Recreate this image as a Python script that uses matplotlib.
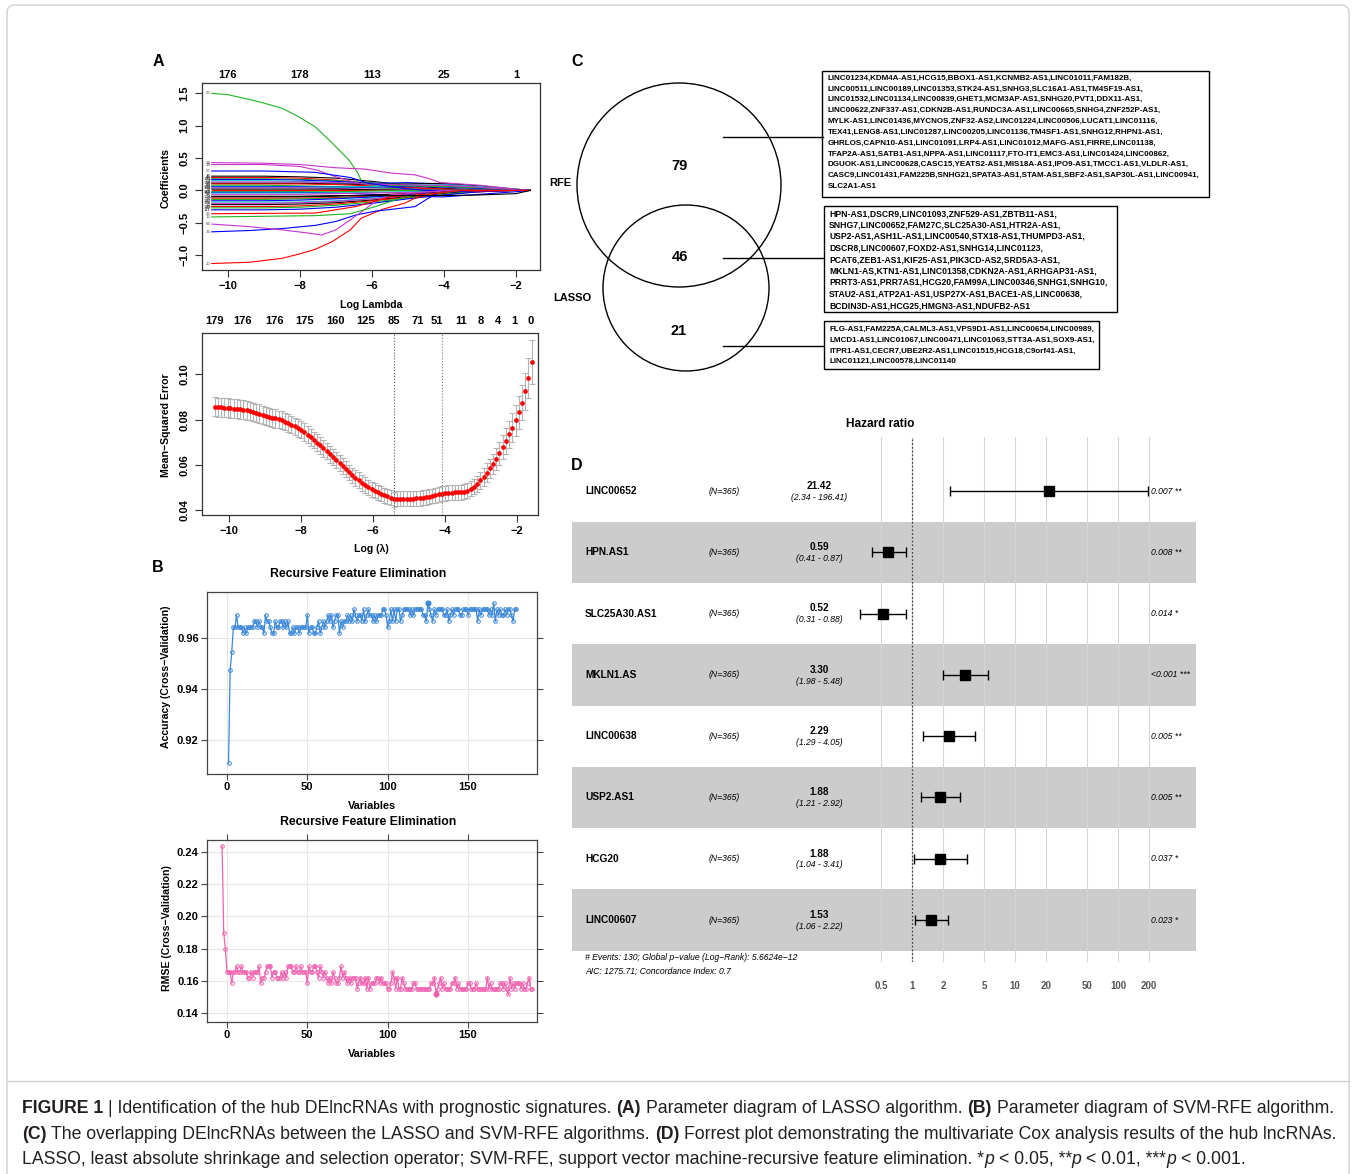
import numpy as np
import matplotlib
matplotlib.use("Agg")
import matplotlib.pyplot as plt
from matplotlib import transforms
from matplotlib.patches import Circle, Rectangle, FancyBboxPatch

W, H = 1356, 1174

# ---------------- panel A (top): LASSO coefficient paths ----------------
lasso_knots = [-10.45, -9.0, -8.0, -7.0, -6.0, -5.0, -4.0, -3.0, -2.0, -1.6]
bundle_paths = [
    [0.22, 0.22, 0.21, 0.19, 0.14, 0.08, 0.03, 0.01, 0.0, 0.0],
    [0.20, 0.20, 0.19, 0.16, 0.10, 0.05, 0.02, 0.0, 0.0, 0.0],
    [0.18, 0.18, 0.17, 0.15, 0.12, 0.09, 0.06, 0.03, 0.01, 0.0],
    [0.17, 0.17, 0.16, 0.14, 0.11, 0.12, 0.10, 0.05, 0.01, 0.0],
    [0.15, 0.15, 0.14, 0.12, 0.07, 0.03, 0.0, 0.0, 0.0, 0.0],
    [0.13, 0.13, 0.13, 0.12, 0.10, 0.08, 0.07, 0.04, 0.01, 0.0],
    [0.11, 0.11, 0.11, 0.10, 0.09, 0.10, 0.11, 0.07, 0.02, 0.0],
    [0.10, 0.10, 0.10, 0.09, 0.07, 0.04, 0.02, 0.0, 0.0, 0.0],
    [0.08, 0.08, 0.07, 0.06, 0.04, 0.02, 0.0, 0.0, 0.0, 0.0],
    [0.06, 0.06, 0.06, 0.05, 0.05, 0.06, 0.05, 0.03, 0.01, 0.0],
    [0.05, 0.05, 0.05, 0.05, 0.06, 0.08, 0.09, 0.06, 0.02, 0.0],
    [0.04, 0.04, 0.04, 0.03, 0.02, 0.01, 0.0, 0.0, 0.0, 0.0],
    [0.02, 0.02, 0.02, 0.02, 0.01, 0.0, 0.0, 0.0, 0.0, 0.0],
    [0.00, 0.00, 0.00, 0.00, 0.00, 0.0, 0.0, 0.0, 0.0, 0.0],
    [-0.02, -0.02, -0.02, -0.02, -0.01, 0.0, 0.0, 0.0, 0.0, 0.0],
    [-0.03, -0.03, -0.03, -0.04, -0.06, -0.09, -0.10, -0.06, -0.02, 0.0],
    [-0.04, -0.04, -0.04, -0.04, -0.03, -0.02, -0.01, 0.0, 0.0, 0.0],
    [-0.06, -0.06, -0.06, -0.05, -0.04, -0.03, -0.02, 0.0, 0.0, 0.0],
    [-0.10, -0.10, -0.10, -0.09, -0.07, -0.05, -0.03, -0.01, 0.0, 0.0],
    [-0.12, -0.12, -0.12, -0.11, -0.09, -0.06, -0.03, 0.0, 0.0, 0.0],
    [-0.14, -0.14, -0.13, -0.12, -0.10, -0.08, -0.05, -0.02, 0.0, 0.0],
    [-0.16, -0.16, -0.15, -0.13, -0.10, -0.07, -0.03, 0.0, 0.0, 0.0],
    [-0.18, -0.18, -0.18, -0.16, -0.12, -0.08, -0.04, -0.01, 0.0, 0.0],
    [-0.20, -0.20, -0.19, -0.17, -0.13, -0.09, -0.05, -0.02, 0.0, 0.0],
    [-0.22, -0.22, -0.21, -0.19, -0.15, -0.10, -0.05, 0.0, 0.0, 0.0],
    [-0.25, -0.25, -0.24, -0.21, -0.16, -0.11, -0.06, -0.02, 0.0, 0.0],
    [-0.27, -0.27, -0.26, -0.23, -0.18, -0.12, -0.06, -0.01, 0.0, 0.0],
    [-0.30, -0.30, -0.29, -0.26, -0.20, -0.13, -0.07, -0.02, 0.0, 0.0],
]
bundle_ids = [12, 45, 88, 131, 7, 64, 150, 23, 99, 171, 38, 142, 5, 77,
              118, 60, 163, 31, 104, 9, 85, 127, 52, 176, 16, 140, 69, 111]

green_top_x = [-10.45, -10.0, -9.44, -9.0, -8.5, -8.04, -7.57, -7.1, -6.64, -6.4, -6.26, -6.1, -5.5, -5.0, -4.0, -3.0, -2.0, -1.6]
green_top_y = [1.50, 1.48, 1.41, 1.35, 1.27, 1.14, 0.98, 0.73, 0.47, 0.28, 0.11, 0.09, 0.08, 0.07, 0.06, 0.04, 0.01, 0.0]
magenta_a_x = [-10.45, -9.0, -8.0, -7.0, -6.2, -5.5, -4.8, -4.4, -4.1, -3.0, -2.0, -1.6]
magenta_a_y = [0.43, 0.42, 0.40, 0.35, 0.33, 0.27, 0.24, 0.18, 0.12, 0.08, 0.02, 0.0]
magenta_b_x = [-10.45, -9.0, -8.0, -7.5, -7.0, -6.3, -5.5, -4.5, -4.0, -3.0, -2.0, -1.6]
magenta_b_y = [0.40, 0.40, 0.37, 0.31, 0.21, 0.10, 0.09, 0.08, 0.08, 0.05, 0.01, 0.0]
blue_top_x = [-10.45, -9.0, -7.6, -6.6, -6.1, -5.1, -4.5, -3.0, -1.6]
blue_top_y = [0.30, 0.30, 0.28, 0.20, 0.11, 0.03, 0.0, 0.0, 0.0]
red_low_x = [-10.45, -9.4, -8.5, -8.0, -7.57, -7.1, -6.6, -6.3, -5.7, -5.1, -4.8, -4.3, -4.0, -3.0, -2.0, -1.6]
red_low_y = [-1.13, -1.11, -1.05, -0.98, -0.91, -0.79, -0.61, -0.43, -0.29, -0.20, -0.12, -0.05, -0.02, -0.01, 0.0, 0.0]
blue_low_x = [-10.45, -9.4, -8.5, -7.57, -7.0, -6.45, -5.9, -5.1, -4.8, -4.4, -4.1, -3.0, -1.6]
blue_low_y = [-0.64, -0.62, -0.59, -0.54, -0.48, -0.38, -0.32, -0.27, -0.25, -0.11, -0.03, 0.0, 0.0]
magenta_low_x = [-10.45, -9.4, -8.5, -7.75, -7.4, -7.0, -6.64, -6.26, -5.9, -5.5, -4.8, -4.0, -1.6]
magenta_low_y = [-0.52, -0.56, -0.61, -0.66, -0.69, -0.61, -0.47, -0.32, -0.17, -0.07, -0.04, 0.0, 0.0]
green_low_x = [-10.45, -7.57, -6.6, -5.9, -5.1, -4.3, -3.5, -1.6]
green_low_y = [-0.41, -0.39, -0.36, -0.25, -0.10, -0.05, 0.0, 0.0]
red_mid_x = [-10.45, -7.57, -6.45, -5.5, -4.3, -3.5, -1.6]
red_mid_y = [-0.36, -0.35, -0.25, -0.10, -0.05, 0.0, 0.0]
black_long_x = [-10.45, -9.0, -8.0, -7.0, -6.0, -5.0, -4.0, -3.0, -2.0, -1.6]
black_long_y = [-0.09, -0.09, -0.09, -0.08, -0.08, -0.08, -0.08, -0.07, -0.05, 0.0]

coef_top_pos = [-10, -8, -6, -4, -2]
coef_top_lab = ["176", "178", "113", "25", "1"]

# ---------------- panel A (bottom): cross-validated MSE ----------------
mse_lam = [-10.40, -10.31, -10.22, -10.13, -10.04, -9.96, -9.87, -9.78, -9.69, -9.60,
           -9.51, -9.42, -9.33, -9.24, -9.16, -9.07, -8.98, -8.89, -8.80, -8.71,
           -8.62, -8.53, -8.44, -8.36, -8.27, -8.18, -8.09, -8.00, -7.91, -7.82,
           -7.73, -7.64, -7.56, -7.47, -7.38, -7.29, -7.20, -7.11, -7.02, -6.93,
           -6.84, -6.76, -6.67, -6.58, -6.49, -6.40, -6.31, -6.22, -6.13, -6.04,
           -5.96, -5.87, -5.78, -5.69, -5.60, -5.51, -5.42, -5.33, -5.24, -5.16,
           -5.07, -4.98, -4.89, -4.80, -4.71, -4.62, -4.53, -4.44, -4.36, -4.27,
           -4.18, -4.09, -4.00, -3.91, -3.82, -3.73, -3.64, -3.56, -3.47, -3.38,
           -3.29, -3.20, -3.11, -3.02, -2.93, -2.84, -2.76, -2.67, -2.58, -2.49,
           -2.40, -2.31, -2.22, -2.13, -2.04, -1.96, -1.87, -1.78, -1.69, -1.60]
mse = [0.0856, 0.0855, 0.0854, 0.0853, 0.0852, 0.0851, 0.0849, 0.0847, 0.0845, 0.0843,
       0.0841, 0.0838, 0.0834, 0.0830, 0.0826, 0.0821, 0.0817, 0.0813, 0.0809, 0.0805,
       0.0801, 0.0797, 0.0791, 0.0785, 0.0778, 0.0771, 0.0763, 0.0755, 0.0745, 0.0734,
       0.0722, 0.0710, 0.0698, 0.0686, 0.0673, 0.0660, 0.0646, 0.0633, 0.0620, 0.0608,
       0.0595, 0.0581, 0.0566, 0.0553, 0.0542, 0.0531, 0.0520, 0.0510, 0.0501, 0.0492,
       0.0485, 0.0478, 0.0472, 0.0466, 0.0460, 0.0454, 0.0448, 0.0449, 0.0449, 0.0449,
       0.0449, 0.0449, 0.0450, 0.0451, 0.0452, 0.0454, 0.0456, 0.0459, 0.0462, 0.0466,
       0.0469, 0.0472, 0.0474, 0.0476, 0.0477, 0.0478, 0.0478, 0.0479, 0.0481, 0.0485,
       0.0494, 0.0504, 0.0516, 0.0531, 0.0547, 0.0565, 0.0584, 0.0605, 0.0627, 0.0651,
       0.0678, 0.0706, 0.0735, 0.0765, 0.0797, 0.0832, 0.0875, 0.0925, 0.0985, 0.1055]
mse_sd = [0.0042, 0.0042, 0.0042, 0.0042, 0.0042, 0.0042, 0.0042, 0.0042, 0.0042, 0.0042,
          0.0041, 0.0041, 0.0041, 0.0041, 0.0041, 0.0040, 0.0040, 0.0040, 0.0040, 0.0040,
          0.0039, 0.0039, 0.0039, 0.0039, 0.0039, 0.0038, 0.0038, 0.0038, 0.0038, 0.0038,
          0.0038, 0.0037, 0.0037, 0.0037, 0.0037, 0.0036, 0.0036, 0.0036, 0.0036, 0.0036,
          0.0036, 0.0035, 0.0035, 0.0035, 0.0035, 0.0035, 0.0034, 0.0034, 0.0034, 0.0034,
          0.0034, 0.0034, 0.0034, 0.0033, 0.0033, 0.0033, 0.0033, 0.0033, 0.0033, 0.0033,
          0.0033, 0.0033, 0.0033, 0.0033, 0.0033, 0.0033, 0.0033, 0.0033, 0.0033, 0.0033,
          0.0033, 0.0033, 0.0033, 0.0033, 0.0033, 0.0033, 0.0033, 0.0033, 0.0033, 0.0033,
          0.0034, 0.0035, 0.0036, 0.0037, 0.0039, 0.0041, 0.0043, 0.0045, 0.0048, 0.0051,
          0.0054, 0.0057, 0.0060, 0.0064, 0.0068, 0.0072, 0.0077, 0.0082, 0.0089, 0.0097]
lambda_min_idx = 56
lambda_1se_idx = 71
mse_top_pos = [-10.39, -9.62, -8.74, -7.89, -7.05, -6.21, -5.42, -4.76, -4.22, -3.57, -3.01, -2.53, -2.07, -1.63]
mse_top_lab = ["179", "176", "176", "175", "160", "125", "85", "71", "51", "11", "8", "4", "1", "0"]

# ---------------- panel B: SVM-RFE ----------------
acc_vars = list(range(1, 181))
acc = [0.9110, 0.9474, 0.9545, 0.9641, 0.9641, 0.9689, 0.9641, 0.9641, 0.9641, 0.9618,
       0.9641, 0.9618, 0.9641, 0.9641, 0.9641, 0.9641, 0.9665, 0.9665, 0.9641, 0.9665,
       0.9641, 0.9641, 0.9618, 0.9689, 0.9665, 0.9665, 0.9641, 0.9618, 0.9618, 0.9665,
       0.9641, 0.9641, 0.9665, 0.9665, 0.9641, 0.9665, 0.9641, 0.9665, 0.9618, 0.9618,
       0.9641, 0.9618, 0.9641, 0.9641, 0.9618, 0.9641, 0.9641, 0.9641, 0.9641, 0.9689,
       0.9618, 0.9641, 0.9641, 0.9618, 0.9618, 0.9641, 0.9665, 0.9618, 0.9641, 0.9665,
       0.9641, 0.9665, 0.9689, 0.9665, 0.9689, 0.9641, 0.9665, 0.9689, 0.9689, 0.9618,
       0.9665, 0.9641, 0.9665, 0.9665, 0.9689, 0.9665, 0.9689, 0.9665, 0.9712, 0.9689,
       0.9665, 0.9689, 0.9689, 0.9665, 0.9712, 0.9665, 0.9689, 0.9712, 0.9689, 0.9689,
       0.9665, 0.9689, 0.9665, 0.9689, 0.9689, 0.9689, 0.9712, 0.9712, 0.9689, 0.9641,
       0.9665, 0.9712, 0.9665, 0.9712, 0.9665, 0.9712, 0.9712, 0.9665, 0.9689, 0.9712,
       0.9712, 0.9712, 0.9712, 0.9689, 0.9712, 0.9689, 0.9712, 0.9712, 0.9712, 0.9712,
       0.9712, 0.9689, 0.9689, 0.9665, 0.9736, 0.9712, 0.9689, 0.9665, 0.9712, 0.9689,
       0.9712, 0.9712, 0.9712, 0.9712, 0.9689, 0.9689, 0.9712, 0.9665, 0.9689, 0.9712,
       0.9689, 0.9712, 0.9712, 0.9712, 0.9689, 0.9689, 0.9712, 0.9712, 0.9712, 0.9689,
       0.9712, 0.9712, 0.9712, 0.9712, 0.9712, 0.9665, 0.9712, 0.9689, 0.9712, 0.9712,
       0.9712, 0.9712, 0.9689, 0.9712, 0.9689, 0.9736, 0.9665, 0.9712, 0.9689, 0.9712,
       0.9689, 0.9689, 0.9712, 0.9689, 0.9712, 0.9712, 0.9689, 0.9665, 0.9712, 0.9712]

rmse_vars = list(range(-3, 191))
rmse = [0.2435, 0.1900, 0.1800, 0.1655, 0.1655, 0.1655, 0.1585, 0.1655, 0.1655, 0.1690, 0.1655, 0.1655, 0.1690, 0.1655,
        0.1655, 0.1655, 0.1620, 0.1620, 0.1655, 0.1620, 0.1655, 0.1655, 0.1655, 0.1690,
        0.1585, 0.1620, 0.1620, 0.1655, 0.1690, 0.1690, 0.1690, 0.1620, 0.1655, 0.1655,
        0.1620, 0.1620, 0.1620, 0.1655, 0.1620, 0.1655, 0.1620, 0.1690, 0.1690, 0.1690,
        0.1655, 0.1655, 0.1690, 0.1655, 0.1655, 0.1690, 0.1655, 0.1655, 0.1655, 0.1585,
        0.1690, 0.1655, 0.1655, 0.1690, 0.1690, 0.1655, 0.1620, 0.1690, 0.1655, 0.1620,
        0.1655, 0.1620, 0.1585, 0.1620, 0.1585, 0.1655, 0.1620, 0.1585, 0.1585, 0.1620,
        0.1690, 0.1620, 0.1655, 0.1620, 0.1585, 0.1620, 0.1585, 0.1620, 0.1620, 0.1620,
        0.1550, 0.1585, 0.1620, 0.1585, 0.1585, 0.1620, 0.1550, 0.1620, 0.1550, 0.1585,
        0.1585, 0.1585, 0.1620, 0.1620, 0.1585, 0.1620, 0.1585, 0.1585, 0.1585, 0.1550,
        0.1550, 0.1585, 0.1655, 0.1620, 0.1550, 0.1620, 0.1550, 0.1550, 0.1620, 0.1585,
        0.1550, 0.1550, 0.1550, 0.1550, 0.1550, 0.1585, 0.1585, 0.1550, 0.1550, 0.1550,
        0.1550, 0.1550, 0.1550, 0.1550, 0.1550, 0.1550, 0.1585, 0.1585, 0.1620, 0.1515,
        0.1550, 0.1585, 0.1620, 0.1550, 0.1585, 0.1550, 0.1550, 0.1550, 0.1550, 0.1585,
        0.1585, 0.1620, 0.1550, 0.1585, 0.1550, 0.1550, 0.1550, 0.1550, 0.1550, 0.1585,
        0.1585, 0.1550, 0.1550, 0.1550, 0.1585, 0.1550, 0.1550, 0.1550, 0.1550, 0.1550,
        0.1550, 0.1620, 0.1550, 0.1585, 0.1550, 0.1550, 0.1550, 0.1550, 0.1550, 0.1585,
        0.1585, 0.1550, 0.1585, 0.1550, 0.1515, 0.1620, 0.1550, 0.1585, 0.1550, 0.1585,
        0.1585, 0.1585, 0.1550, 0.1585, 0.1550, 0.1550, 0.1585, 0.1620, 0.1550, 0.1550]

# ---------------- panel C: Venn ----------------
venn_counts = ["79", "46", "21"]
rfe_only = ["LINC01234,KDM4A-AS1,HCG15,BBOX1-AS1,KCNMB2-AS1,LINC01011,FAM182B,",
            "LINC00511,LINC00189,LINC01353,STK24-AS1,SNHG3,SLC16A1-AS1,TM4SF19-AS1,",
            "LINC01532,LINC01134,LINC00839,GHET1,MCM3AP-AS1,SNHG20,PVT1,DDX11-AS1,",
            "LINC00622,ZNF337-AS1,CDKN2B-AS1,RUNDC3A-AS1,LINC00665,SNHG4,ZNF252P-AS1,",
            "MYLK-AS1,LINC01436,MYCNOS,ZNF32-AS2,LINC01224,LINC00506,LUCAT1,LINC01116,",
            "TEX41,LENG8-AS1,LINC01287,LINC00205,LINC01136,TM4SF1-AS1,SNHG12,RHPN1-AS1,",
            "GHRLOS,CAPN10-AS1,LINC01091,LRP4-AS1,LINC01012,MAFG-AS1,FIRRE,LINC01138,",
            "TFAP2A-AS1,SATB1-AS1,NPPA-AS1,LINC01117,FTO-IT1,EMC3-AS1,LINC01424,LINC00862,",
            "DGUOK-AS1,LINC00628,CASC15,YEATS2-AS1,MIS18A-AS1,IPO9-AS1,TMCC1-AS1,VLDLR-AS1,",
            "CASC9,LINC01431,FAM225B,SNHG21,SPATA3-AS1,STAM-AS1,SBF2-AS1,SAP30L-AS1,LINC00941,",
            "SLC2A1-AS1"]
shared = ["HPN-AS1,DSCR9,LINC01093,ZNF529-AS1,ZBTB11-AS1,",
          "SNHG7,LINC00652,FAM27C,SLC25A30-AS1,HTR2A-AS1,",
          "USP2-AS1,ASH1L-AS1,LINC00540,STX18-AS1,THUMPD3-AS1,",
          "DSCR8,LINC00607,FOXD2-AS1,SNHG14,LINC01123,",
          "PCAT6,ZEB1-AS1,KIF25-AS1,PIK3CD-AS2,SRD5A3-AS1,",
          "MKLN1-AS,KTN1-AS1,LINC01358,CDKN2A-AS1,ARHGAP31-AS1,",
          "PRRT3-AS1,PRR7AS1,HCG20,FAM99A,LINC00346,SNHG1,SNHG10,",
          "STAU2-AS1,ATP2A1-AS1,USP27X-AS1,BACE1-AS,LINC00638,",
          "BCDIN3D-AS1,HCG25,HMGN3-AS1,NDUFB2-AS1"]
lasso_only = ["FLG-AS1,FAM225A,CALML3-AS1,VPS9D1-AS1,LINC00654,LINC00989,",
              "LMCD1-AS1,LINC01067,LINC00471,LINC01063,STT3A-AS1,SOX9-AS1,",
              "ITPR1-AS1,CECR7,UBE2R2-AS1,LINC01515,HCG18,C9orf41-AS1,",
              "LINC01121,LINC00578,LINC01140"]

# ---------------- panel D: forest plot ----------------
genes = ["LINC00652", "HPN.AS1", "SLC25A30.AS1", "MKLN1.AS", "LINC00638", "USP2.AS1", "HCG20", "LINC00607"]
hr = [21.42, 0.59, 0.52, 3.30, 2.29, 1.88, 1.88, 1.53]
hr_lo = [2.34, 0.41, 0.31, 1.98, 1.29, 1.21, 1.04, 1.06]
hr_hi = [196.41, 0.87, 0.88, 5.48, 4.05, 2.92, 3.41, 2.22]
p_txt = ["0.007 **", "0.008 **", "0.014 *", "<0.001 ***", "0.005 **", "0.005 **", "0.037 *", "0.023 *"]
hr_ticks = [0.5, 1, 2, 5, 10, 20, 50, 100, 200]

plt.rcParams['font.family'] = ['Liberation Sans', 'DejaVu Sans']
fig = plt.figure(figsize=(W / 100, H / 100), dpi=100)
renderer = fig.canvas.get_renderer()


def px_axes(x0, y0, x1, y1):
    return fig.add_axes([x0 / W, 1 - y1 / H, (x1 - x0) / W, (y1 - y0) / H])


def ftext(x, y, s, **kw):
    return fig.text(x / W, 1 - y / H, s, **kw)


def minus(v, fmt):
    return (fmt % v).replace('-', '\u2212')


BOLD = dict(fontweight='bold')

# overlay in pixel coordinates for frames and the Venn panel
ov = fig.add_axes([0, 0, 1, 1])
ov.set_xlim(0, W)
ov.set_ylim(H, 0)
ov.axis('off')
ov.add_patch(FancyBboxPatch((7, 5), 1342, 1200, boxstyle='round,pad=0,rounding_size=8',
                            fill=False, ec='#cfcfcf', lw=1))
ov.plot([7, 1349], [1081, 1081], color='#cfcfcf', lw=1)

# ---- A top ----
palette = ['black', 'red', '#1fb51f', 'blue', '#00c8c8', '#c832c8']
axc = px_axes(202, 83, 540, 270)
for k, path in enumerate(bundle_paths):
    col = palette[k % 6]
    axc.plot(lasso_knots, path, color=col, lw=0.8)
    axc.text(-10.48, path[0], str(bundle_ids[k]), fontsize=3.2, ha='right', va='center', color='#333')
main_paths = [(green_top_x, green_top_y, '#1fb51f', '56'), (magenta_a_x, magenta_a_y, '#c832c8', '96'),
              (magenta_b_x, magenta_b_y, '#c832c8', '18'), (blue_top_x, blue_top_y, 'blue', '57'),
              (red_low_x, red_low_y, 'red', '20'), (blue_low_x, blue_low_y, 'blue', '36'),
              (magenta_low_x, magenta_low_y, '#c832c8', '66'), (green_low_x, green_low_y, '#1fb51f', '15'),
              (red_mid_x, red_mid_y, 'red', '26'), (black_long_x, black_long_y, 'black', '79')]
for xs, ys, col, lab in main_paths:
    axc.plot(xs, ys, color=col, lw=0.8)
    axc.text(-10.48, ys[0], lab, fontsize=3.2, ha='right', va='center', color='#555')
axc.set_xlim(-10.72, -1.33)
axc.set_ylim(-1.23, 1.66)
axc.set_xticks([-10, -8, -6, -4, -2])
axc.set_xticklabels([minus(v, '%d') for v in [-10, -8, -6, -4, -2]], fontsize=8, **BOLD)
axc.set_yticks([-1.0, -0.5, 0.0, 0.5, 1.0, 1.5])
axc.set_yticklabels([minus(v, '%.1f') for v in [-1.0, -0.5, 0.0, 0.5, 1.0, 1.5]],
                    rotation=90, va='center', fontsize=8, **BOLD)
blend = transforms.blended_transform_factory(axc.transData, axc.transAxes)
off = transforms.offset_copy(blend, fig=fig, y=2, units='points')
for pos, lab in zip(coef_top_pos, coef_top_lab):
    axc.text(pos, 1.0, lab, transform=off, ha='center', va='bottom', fontsize=8, **BOLD)
ftext(371, 305, 'Log Lambda', ha='center', va='center', fontsize=7.6, **BOLD)
ftext(166, 178, 'Coefficients', ha='center', va='center', rotation=90, fontsize=7.6, **BOLD)

# ---- A bottom ----
axm = px_axes(202, 333, 538, 515)
axm.errorbar(mse_lam, mse, yerr=mse_sd, fmt='none', ecolor='#b4b4b4', elinewidth=0.8,
             capsize=1.9, capthick=0.8)
axm.plot(mse_lam, mse, 'o', color='red', ms=3.4, mec='none')
axm.axvline(mse_lam[lambda_min_idx], color='#555', ls=':', lw=0.8)
axm.axvline(mse_lam[lambda_1se_idx], color='#777', ls=':', lw=0.8)
axm.set_xlim(-10.75, -1.42)
axm.set_ylim(0.0378, 0.1183)
axm.set_xticks([-10, -8, -6, -4, -2])
axm.set_xticklabels([minus(v, '%d') for v in [-10, -8, -6, -4, -2]], fontsize=8, **BOLD)
axm.set_yticks([0.04, 0.06, 0.08, 0.10])
axm.set_yticklabels(['0.04', '0.06', '0.08', '0.10'], rotation=90, va='center', fontsize=8, **BOLD)
blend = transforms.blended_transform_factory(axm.transData, axm.transAxes)
off = transforms.offset_copy(blend, fig=fig, y=5, units='points')
for pos, lab in zip(mse_top_pos, mse_top_lab):
    axm.text(pos, 1.0, lab, transform=off, ha='center', va='bottom', fontsize=8, **BOLD)
ftext(371, 549, 'Log (\u03bb)', ha='center', va='center', fontsize=7.6, **BOLD)
ftext(166, 425, 'Mean\u2212Squared Error', ha='center', va='center', rotation=90, fontsize=7.6, **BOLD)

for ax in (axc, axm):
    for sp in ax.spines.values():
        sp.set_color('#333')
        sp.set_linewidth(0.9)
    ax.tick_params(direction='out', length=5, width=0.8, color='#333', pad=3)
    ax.tick_params(axis='y', pad=4)

# ---- B ----
axa = px_axes(207, 592, 537, 774)
axr = px_axes(207, 840, 537, 1022)
blue_c = '#3b87d8'
pink_c = '#f062b0'
axa.plot(acc_vars, acc, '-o', color=blue_c, lw=0.9, ms=2.6, mfc='none', mew=0.7)
best = int(np.argmax(acc))
axa.plot([acc_vars[best]], [acc[best]], 'o', color=blue_c, ms=3.4)
axr.plot(rmse_vars, rmse, '-o', color=pink_c, lw=0.9, ms=2.6, mfc='none', mew=0.7)
best = int(np.argmin(rmse))
axr.plot([rmse_vars[best]], [rmse[best]], 'o', color=pink_c, ms=3.4)
axa.set_ylim(0.9067, 0.978)
axa.set_yticks([0.92, 0.94, 0.96])
axa.set_yticklabels(['0.92', '0.94', '0.96'], fontsize=8, **BOLD)
axr.set_ylim(0.1344, 0.2475)
axr.set_yticks([0.14, 0.16, 0.18, 0.20, 0.22, 0.24])
axr.set_yticklabels(['0.14', '0.16', '0.18', '0.20', '0.22', '0.24'], fontsize=8, **BOLD)
for ax in (axa, axr):
    ax.set_xlim(-12.4, 192.9)
    ax.set_xticks([0, 50, 100, 150])
    ax.set_xticklabels(['0', '50', '100', '150'], fontsize=8, **BOLD)
    ax.set_axisbelow(True)
    ax.grid(True, color='#e6e6e6', lw=0.8)
    for sp in ax.spines.values():
        sp.set_color('#444')
        sp.set_linewidth(0.9)
    ax.tick_params(direction='out', length=4, width=0.8, color='#444', pad=2, right=True)
axr.tick_params(top=True)
ftext(358, 574, 'Recursive Feature Elimination', ha='center', va='center', fontsize=8.8, **BOLD)
ftext(368, 822, 'Recursive Feature Elimination', ha='center', va='center', fontsize=8.8, **BOLD)
ftext(372, 806, 'Variables', ha='center', va='center', fontsize=7.8, **BOLD)
ftext(372, 1054, 'Variables', ha='center', va='center', fontsize=7.8, **BOLD)
ftext(166, 677, 'Accuracy (Cross\u2212Validation)', ha='center', va='center', rotation=90, fontsize=7.6, **BOLD)
ftext(167, 928, 'RMSE (Cross\u2212Validation)', ha='center', va='center', rotation=90, fontsize=7.6, **BOLD)

# ---- C: Venn ----
ov.add_patch(Circle((679, 185), 102, fill=False, ec='black', lw=1))
ov.add_patch(Circle((686, 288), 83, fill=False, ec='black', lw=1))
for (cx, cy), txt in zip([(679, 166), (680, 257), (679, 331)], venn_counts):
    ov.text(cx, cy, txt, ha='center', va='center', fontsize=10.5, **BOLD)
ov.text(560, 183, 'RFE', ha='center', va='center', fontsize=8, **BOLD)
ov.text(572, 298, 'LASSO', ha='center', va='center', fontsize=8, **BOLD)
for yy in (137, 258, 346):
    ov.plot([723, 823], [yy, yy], color='black', lw=1)


def text_width(s, size, **kw):
    t = fig.text(0, 0, s, fontsize=size, **kw)
    w = t.get_window_extent(renderer).width
    t.remove()
    return w


gene_boxes = [(rfe_only, (822, 71, 1209, 197), 828, 78, 10.85, 378),
              (shared, (824, 206, 1117, 312), 829, 213.5, 11.5, 279),
              (lasso_only, (824, 321, 1099, 369), 829, 329.5, 10.7, 266)]
for lines, (x0, y0, x1, y1), tx, ty, dy, target in gene_boxes:
    ov.add_patch(Rectangle((x0, y0), x1 - x0, y1 - y0, fill=False, ec='black', lw=1))
    longest = max(lines, key=lambda s: text_width(s, 6, **BOLD))
    size = 6 * target / text_width(longest, 6, **BOLD)
    for i, s in enumerate(lines):
        ov.text(tx, ty + i * dy, s, ha='left', va='center', fontsize=size, **BOLD)

# ---- D: forest plot ----
fx0, fx1, one_px, dec_px = 572, 1196, 912, 103
axf = px_axes(fx0, 437, fx1, 962)
axf.set_xscale('log')
axf.set_xlim(10 ** ((fx0 - one_px) / dec_px), 10 ** ((fx1 - one_px) / dec_px))
axf.set_ylim(7.684, -0.881)
for i in range(1, len(genes), 2):
    axf.axhspan(i - 0.5, i + 0.5, color='#cccccc', lw=0, zorder=0)
for t in hr_ticks:
    axf.axvline(t, color='#d6d6d6', lw=0.8, zorder=1)
axf.axvline(1, color='#444', ls=(0, (1.5, 1.5)), lw=0.9, zorder=2)
rows = np.arange(len(genes))
axf.errorbar(hr, rows, xerr=[np.array(hr) - np.array(hr_lo), np.array(hr_hi) - np.array(hr)],
             fmt='s', color='black', ms=7.5, elinewidth=1.0, capsize=3.3, capthick=1.0, zorder=3)
bt = transforms.blended_transform_factory(axf.transAxes, axf.transData)


def fr(px):
    return (px - fx0) / (fx1 - fx0)


for i, g in enumerate(genes):
    axf.text(fr(585), i, g, transform=bt, ha='left', va='center', fontsize=7.3, **BOLD)
    axf.text(fr(724), i, '(N=365)', transform=bt, ha='center', va='center', fontsize=6.2, style='italic')
    axf.text(fr(819), i - 0.085, '%.2f' % hr[i], transform=bt, ha='center', va='center', fontsize=7.2, **BOLD)
    axf.text(fr(819), i + 0.1, '(%.2f - %.2f)' % (hr_lo[i], hr_hi[i]), transform=bt, ha='center',
             va='center', fontsize=6.2, style='italic')
    axf.text(fr(1151), i, p_txt[i], transform=bt, ha='left', va='center', fontsize=6.2, style='italic')
axf.set_xticks(hr_ticks)
axf.set_xticklabels([str(t) for t in hr_ticks], fontsize=7, color='#555', **BOLD)
axf.minorticks_off()
axf.tick_params(axis='x', length=0, pad=14)
axf.set_yticks([])
for sp in axf.spines.values():
    sp.set_visible(False)
ftext(880, 424, 'Hazard ratio', ha='center', va='center', fontsize=8.6, **BOLD)
ftext(585, 958, '# Events: 130; Global p\u2212value (Log\u2212Rank): 5.6624e\u221212', ha='left', va='center',
      fontsize=6.2, style='italic')
ftext(585, 971, 'AIC: 1275.71; Concordance Index: 0.7', ha='left', va='center', fontsize=6.2, style='italic')

# panel letters
for (lx, ly), lab in zip([(158, 62), (158, 567), (577, 62), (577, 466)], ['A', 'B', 'C', 'D']):
    ftext(lx, ly, lab, ha='center', va='center', fontsize=11.5, **BOLD)

# ---- caption ----
B_ = dict(fontweight='bold')
N_ = dict()
I_ = dict(fontstyle='italic')
caption = [
    [("FIGURE 1", B_), (" | Identification of the hub DElncRNAs with prognostic signatures. ", N_),
     ("(A)", B_), (" Parameter diagram of LASSO algorithm. ", N_), ("(B)", B_),
     (" Parameter diagram of SVM-RFE algorithm.", N_)],
    [("(C)", B_), (" The overlapping DElncRNAs between the LASSO and SVM-RFE algorithms. ", N_),
     ("(D)", B_), (" Forrest plot demonstrating the multivariate Cox analysis results of the hub lncRNAs.", N_)],
    [("LASSO, least absolute shrinkage and selection operator; SVM-RFE, support vector machine-recursive "
      "feature elimination. *", N_), ("p", I_), (" < 0.05, **", N_), ("p", I_), (" < 0.01, ***", N_),
     ("p", I_), (" < 0.001.", N_)],
]


def run_pieces(x, y, pieces, size, draw):
    cur = x
    for s, kw in pieces:
        core = s.strip(' ')
        lead = len(s) - len(s.lstrip(' '))
        trail = len(s) - len(s.rstrip(' '))
        sw = text_width('a a', size, **kw) - text_width('aa', size, **kw)
        cur += lead * sw
        if core:
            if draw:
                ftext(cur, y, core, fontsize=size, ha='left', va='baseline', color='#231f20', **kw)
            cur += text_width(core, size, **kw)
        cur += trail * sw
    return cur - x


cap_size = 12 * 1315 / run_pieces(0, 0, caption[0], 12, False)
for line, base in zip(caption, [1113, 1139, 1164]):
    run_pieces(22, base, line, cap_size, True)

fig.savefig('out.png', dpi=100)
